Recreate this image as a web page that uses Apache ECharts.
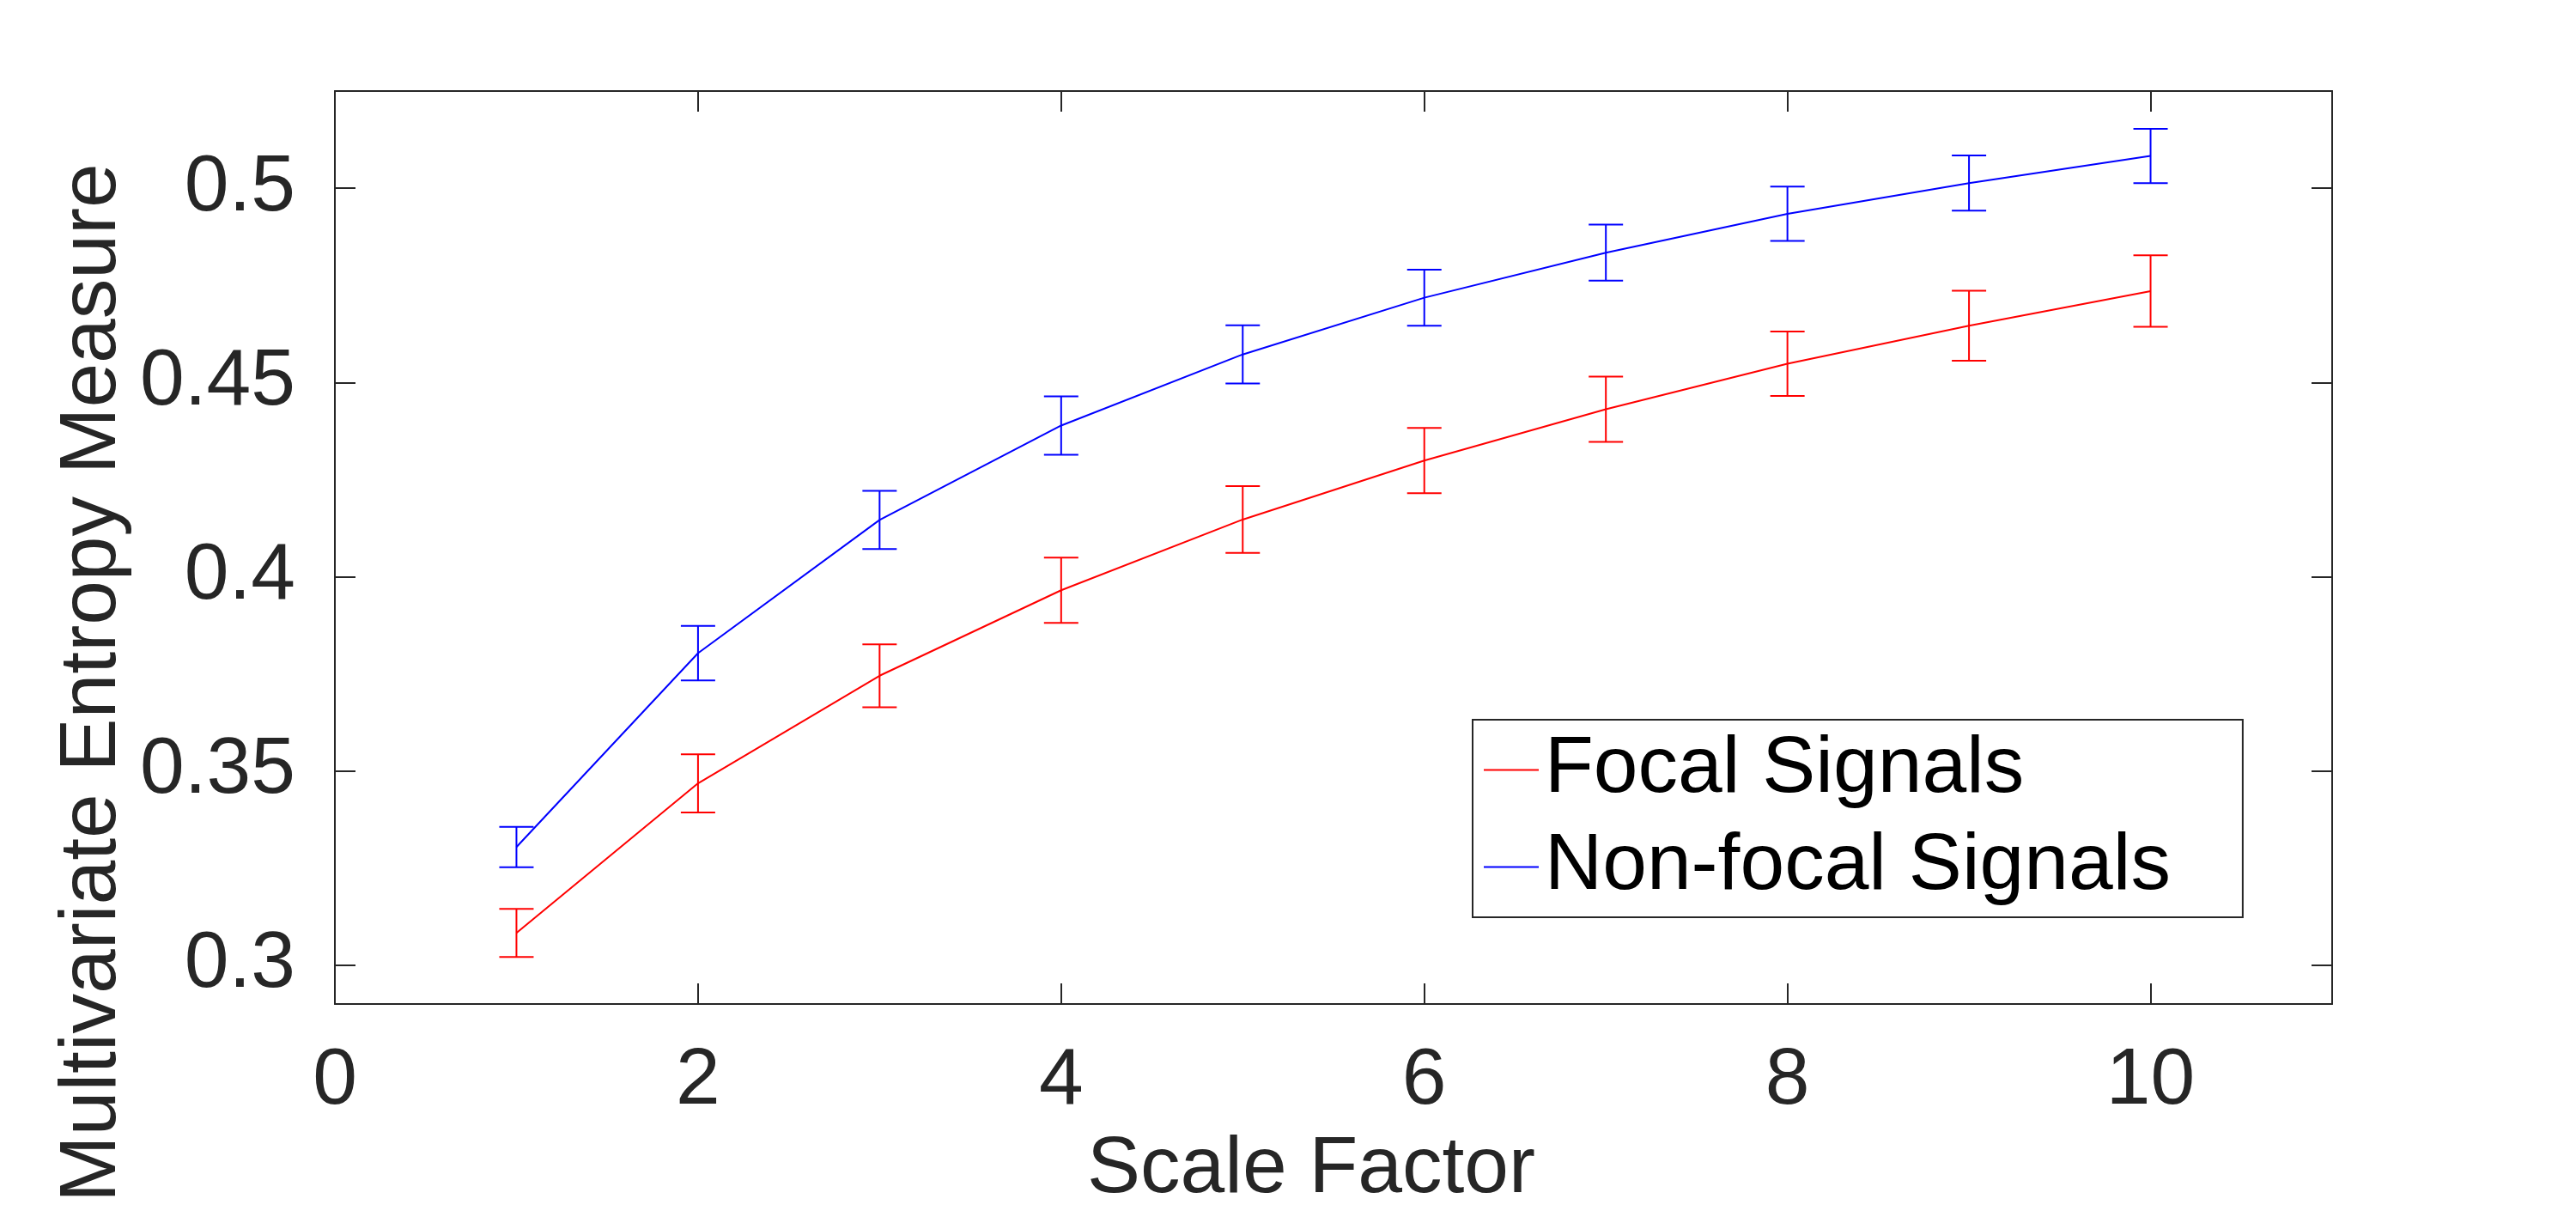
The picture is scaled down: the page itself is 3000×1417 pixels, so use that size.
<!DOCTYPE html>
<html>
<head>
<meta charset="utf-8">
<script src="https://cdn.jsdelivr.net/npm/echarts@6/dist/echarts.min.js"></script>
<style>
html,body{margin:0;padding:0;background:#fff;}
#chart{width:3000px;height:1417px;}
</style>
</head>
<body>
<div id="chart"></div>
<script>
// Scale factors (x values)
const scaleFactors = [1, 2, 3, 4, 5, 6, 7, 8, 9, 10];
// Focal signals: mean and error
const focalMean = [0.3083, 0.3468, 0.3745, 0.3965, 0.4147, 0.4299, 0.4431, 0.4548, 0.4646, 0.4735];
const focalErr  = [0.0062, 0.0075, 0.0081, 0.0084, 0.0086, 0.0084, 0.0084, 0.0083, 0.0090, 0.0092];
// Non-focal signals: mean and error
const nonFocalMean = [0.3304, 0.3803, 0.4146, 0.4389, 0.4572, 0.4718, 0.4834, 0.4934, 0.5013, 0.5083];
const nonFocalErr  = [0.0052, 0.0070, 0.0075, 0.0075, 0.0075, 0.0072, 0.0072, 0.0070, 0.0071, 0.0070];
// Tick labels
const xTicks = [0, 2, 4, 6, 8, 10];
const yTicks = [0.3, 0.35, 0.4, 0.45, 0.5];
const seriesNames = ['Focal Signals', 'Non-focal Signals'];
const xTitle = 'Scale Factor';
const yTitle = 'Multivariate Entropy Measure';

const FONT = "'Liberation Sans', Arial, Helvetica, sans-serif";
const AX = '#262626';
const RED = '#FF0000';
const BLUE = '#0000FF';

function errData(mean, err) {
  return scaleFactors.map((x, i) => [x, mean[i] - err[i], mean[i] + err[i]]);
}
function lineData(mean) {
  return scaleFactors.map((x, i) => [x, mean[i]]);
}
function errRender(color) {
  return function (params, api) {
    const x = api.value(0);
    const lo = api.coord([x, api.value(1)]);
    const hi = api.coord([x, api.value(2)]);
    const hw = 20;
    const style = { stroke: color, lineWidth: 2, fill: null };
    return {
      type: 'group',
      children: [
        { type: 'line', shape: { x1: lo[0], y1: lo[1], x2: hi[0], y2: hi[1] }, style: style },
        { type: 'line', shape: { x1: lo[0] - hw, y1: lo[1], x2: lo[0] + hw, y2: lo[1] }, style: style },
        { type: 'line', shape: { x1: hi[0] - hw, y1: hi[1], x2: hi[0] + hw, y2: hi[1] }, style: style }
      ]
    };
  };
}

const axisLine = { show: true, onZero: false, lineStyle: { color: AX, width: 2 } };
const tickStyle = { color: AX, width: 2 };

const chart = echarts.init(document.getElementById('chart'), null, { renderer: 'canvas' });
chart.setOption({
  backgroundColor: '#fff',
  animation: false,
  grid: { left: 390, top: 106, right: 284, bottom: 248, containLabel: false },
  xAxis: [
    {
      type: 'value', min: 0, max: 11, position: 'bottom',
      axisLine: axisLine,
      axisTick: { show: true, inside: true, length: 24, customValues: xTicks, lineStyle: tickStyle },
      axisLabel: { show: true, customValues: xTicks, fontSize: 93, fontFamily: FONT, color: AX, margin: 44 },
      splitLine: { show: false }
    },
    {
      type: 'value', min: 0, max: 11, position: 'top',
      axisLine: axisLine,
      axisTick: { show: true, inside: true, length: 24, customValues: xTicks, lineStyle: tickStyle },
      axisLabel: { show: false },
      splitLine: { show: false }
    }
  ],
  yAxis: [
    {
      type: 'value', min: 0.29, max: 0.525, position: 'left',
      axisLine: axisLine,
      axisTick: { show: true, inside: true, length: 24, customValues: yTicks, lineStyle: tickStyle },
      axisLabel: { show: true, customValues: yTicks, fontSize: 93, fontFamily: FONT, color: AX, margin: 46,
                   formatter: v => String(+v.toFixed(2)) },
      splitLine: { show: false }
    },
    {
      type: 'value', min: 0.29, max: 0.525, position: 'right',
      axisLine: axisLine,
      axisTick: { show: true, inside: true, length: 24, customValues: yTicks, lineStyle: tickStyle },
      axisLabel: { show: false },
      splitLine: { show: false }
    }
  ],
  legend: {
    data: seriesNames,
    orient: 'vertical',
    left: 1715, top: 838,
    icon: 'rect',
    itemWidth: 64, itemHeight: 2, itemGap: 20,
    padding: [12, 84, 12, 13],
    borderColor: AX, borderWidth: 2, borderRadius: 0,
    backgroundColor: '#fff',
    textStyle: { fontSize: 93, lineHeight: 93, fontFamily: FONT, color: '#000', padding: [0, 0, 0, 2] }
  },
  graphic: [
    {
      type: 'text', x: 1527, y: 1362,
      style: { text: xTitle, font: '93px ' + FONT, fill: AX, textAlign: 'center', textVerticalAlign: 'middle' }
    },
    {
      type: 'text', x: 108, y: 795, rotation: Math.PI / 2,
      style: { text: yTitle, font: '93px ' + FONT, fill: AX, textAlign: 'center', textVerticalAlign: 'middle' }
    }
  ],
  series: [
    {
      name: seriesNames[0], type: 'line', xAxisIndex: 0, yAxisIndex: 0,
      data: lineData(focalMean), symbol: 'none', showSymbol: false,
      itemStyle: { color: RED }, lineStyle: { color: RED, width: 2 }, z: 3
    },
    {
      name: seriesNames[1], type: 'line', xAxisIndex: 0, yAxisIndex: 0,
      data: lineData(nonFocalMean), symbol: 'none', showSymbol: false,
      itemStyle: { color: BLUE }, lineStyle: { color: BLUE, width: 2 }, z: 3
    },
    {
      name: 'focalErr', type: 'custom', xAxisIndex: 0, yAxisIndex: 0,
      data: errData(focalMean, focalErr), renderItem: errRender(RED),
      encode: { x: 0, y: [1, 2] }, z: 3, silent: true
    },
    {
      name: 'nonFocalErr', type: 'custom', xAxisIndex: 0, yAxisIndex: 0,
      data: errData(nonFocalMean, nonFocalErr), renderItem: errRender(BLUE),
      encode: { x: 0, y: [1, 2] }, z: 3, silent: true
    }
  ]
});
</script>
</body>
</html>
